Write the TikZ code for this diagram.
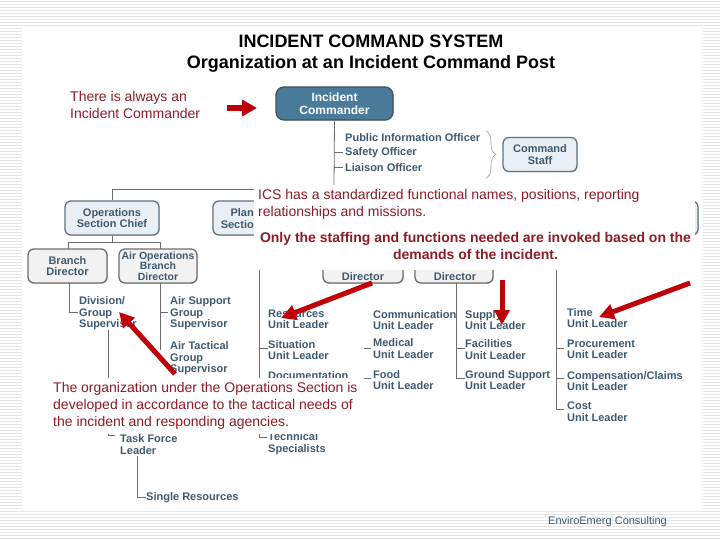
\documentclass[tikz,border=0pt]{standalone}
\usepackage{fontspec}
\setmainfont{Liberation Sans}
\usetikzlibrary{arrows.meta,decorations.pathreplacing,shadows}
\definecolor{col_note}{HTML}{8E1B25}
\definecolor{col_arrow}{HTML}{C00008}
\definecolor{col_chart}{HTML}{3F5A70}
\definecolor{col_line}{HTML}{6E6E6E}
\definecolor{col_boxedge}{HTML}{5F7482}
\definecolor{col_boxfill}{HTML}{E9EFF4}
\definecolor{col_ic}{HTML}{4A7B9B}
\definecolor{col_stripe}{HTML}{E6E6E6}
\tikzset{
    chart_box/.style={draw=col_boxedge,line width=1.3pt,fill=col_boxfill,rounded corners=6pt,inner sep=0pt,align=center,text=col_chart,font=\bfseries\fontsize{11}{11.5}\selectfont,drop shadow={shadow xshift=0.8pt,shadow yshift=-0.8pt,opacity=0.3}},
    branch_box/.style={chart_box,draw=col_line,fill=gray!10},
    chart_text/.style={inner sep=0pt,anchor=west,align=left,yshift=-0.5pt,text=col_chart,font=\bfseries\fontsize{11}{11.5}\selectfont},
    note_text/.style={inner sep=0pt,text=col_note,font=\fontsize{14}{17}\selectfont},
    title_text/.style={inner sep=0pt,align=center,font=\bfseries\fontsize{18}{21}\selectfont},
    cover/.style={fill=white,inner sep=0pt,anchor=north west},
    chart_line/.style={draw=col_line,line width=0.8pt},
    red_arrow/.style={-{Triangle[length=15pt,width=15pt]},draw=col_arrow,line width=5pt},
}
\begin{document}
\begin{tikzpicture}[x=1pt,y=-1pt]
  \useasboundingbox (0,0) rectangle (720,540);
  % striped page margins
  \foreach \ypos in {1,4,...,538}{
    \draw[col_stripe,line width=0.9pt] (0,\ypos) -- (720,\ypos);
  }
  \fill[white] (22,28) rectangle (703,510);
  % chart boxes
  \node[chart_box,fill=col_ic,draw=col_boxedge!70!black,text=white,rounded corners=8pt,minimum width=117pt,minimum height=33pt,font=\bfseries\fontsize{12}{13}\selectfont] (ic) at (334.5,103.5) {Incident\\Commander};
  \node[chart_box,minimum width=74pt,minimum height=34pt] (staff) at (540,154.5) {Command\\Staff};
  \node[chart_box,minimum width=94pt,minimum height=34pt] (ops) at (112,218) {Operations\\Section Chief};
  \node[chart_box,minimum width=94pt,minimum height=34pt] (plan) at (260,218) {};
  \node[chart_box,minimum width=94pt,minimum height=34pt] (finance) at (651,218) {};
  \node[branch_box,minimum width=79pt,minimum height=34pt] (branch) at (67.5,266) {Branch\\Director};
  \node[branch_box,minimum width=78pt,minimum height=34pt,font=\bfseries\fontsize{10.5}{10.5}\selectfont] (airops) at (158,266) {Air Operations\\Branch\\Director};
  \node[branch_box,minimum width=80pt,minimum height=34pt] (dir_a) at (363,266) {};
  \node[branch_box,minimum width=78pt,minimum height=34pt] (dir_b) at (454,266) {};
  % officers and unit leaders
  \node[chart_text] (pio) at (345,137) {Public Information Officer};
  \node[chart_text] (safety) at (345,152) {Safety Officer};
  \node[chart_text] (liaison) at (345,167) {Liaison Officer};
  \node[chart_text] (division) at (79,313) {Division/\\Group\\Supervisor};
  \node[chart_text] (airsupport) at (170,313) {Air Support\\Group\\Supervisor};
  \node[chart_text] (airtactical) at (170,358) {Air Tactical\\Group\\Supervisor};
  \node[chart_text] (resources) at (268,319) {Resources\\Unit Leader};
  \node[chart_text] (situation) at (268,349.5) {Situation\\Unit Leader};
  \node[chart_text] (documentation) at (268,375) {Documentation};
  \node[chart_text] (technical) at (268,443) {Technical\\Specialists};
  \node[chart_text] (taskforce) at (120,444) {Task Force\\Leader};
  \node[chart_text] (single) at (146,497) {Single Resources};
  \node[chart_text] (comms) at (373,319.5) {Communication\\Unit Leader};
  \node[chart_text] (medical) at (373,348) {Medical\\Unit Leader};
  \node[chart_text] (food) at (373,379.5) {Food\\Unit Leader};
  \node[chart_text] (supply) at (465,319.5) {Supply\\Unit Leader};
  \node[chart_text] (facilities) at (465,349) {Facilities\\Unit Leader};
  \node[chart_text] (ground) at (465,379.5) {Ground Support\\Unit Leader};
  \node[chart_text] (time) at (567,317.5) {Time\\Unit Leader};
  \node[chart_text] (procurement) at (567,349) {Procurement\\Unit Leader};
  \node[chart_text] (compensation) at (567,380.5) {Compensation/Claims\\Unit Leader};
  \node[chart_text] (cost) at (567,411) {Cost\\Unit Leader};
  % connectors
  \coordinate (ic_low) at (334,185);
  \coordinate (bus_left) at (112,189.5);
  \coordinate (bus_right) at (260,189.5);
  \coordinate (safety_in) at (343,152);
  \coordinate (liaison_in) at (343,167);
  \draw[chart_line] (ic.south) -- (ic_low);
  \draw[chart_line] (334,152) -- (safety_in);
  \draw[chart_line] (334,167) -- (liaison_in);
  \draw[chart_line] (ops.north) -- (bus_left) -- (bus_right) -- (plan.north);
  \coordinate (ops_low) at (112,242);
  \draw[chart_line] (ops.south) -- (ops_low);
  \draw[chart_line] (68,249) -- (68,242) -- (160,242) -- (160,249);
  \coordinate (division_in) at (78,312);
  \draw[chart_line] (69,283) |- (division_in);
  \coordinate (airops_low) at (160,350);
  \coordinate (airsupport_in) at (168,312);
  \draw[chart_line] (160,283) -- (airops_low);
  \draw[chart_line] (160,312) -- (airsupport_in);
  \coordinate (division_low) at (108,330);
  \coordinate (taskforce_in) at (115,435);
  \draw[chart_line] (division_low) |- (taskforce_in);
  \coordinate (taskforce_low) at (137.5,456);
  \draw[chart_line] (taskforce_low) |- (single.west);
  \coordinate (plan_top) at (259,270);
  \coordinate (technical_in) at (267,437);
  \draw[chart_line] (plan_top) |- (technical_in);
  \draw[chart_line] (259,348) -- (268,348);
  \draw[chart_line] (364,348) -- (371,348);
  \draw[chart_line] (364,378) -- (371,378);
  \coordinate (ground_in) at (465,378);
  \draw[chart_line] (456.5,283) |- (ground_in);
  \draw[chart_line] (456.5,348) -- (465,348);
  \coordinate (finance_top) at (556.5,270);
  \coordinate (cost_in) at (564,409);
  \draw[chart_line] (finance_top) |- (cost_in);
  \draw[chart_line] (556.5,348) -- (564,348);
  \draw[chart_line] (556.5,378) -- (564,378);
  \draw[decorate,decoration={brace,amplitude=10pt},draw=col_line!70,line width=0.6pt] (486,131) -- (486,178);
  % white panels of the notes
  \node[cover,minimum width=441pt,minimum height=85pt] (ics_cover) at (254,185) {};
  \node[cover,minimum width=308pt,minimum height=56pt] (org_cover) at (50,378) {};
  % notes
  \node[title_text] (title) at (371,53.5) {INCIDENT COMMAND SYSTEM\\Organization at an Incident Command Post};
  \node[note_text,anchor=west,align=left] (note_ic) at (70,105) {There is always an\\Incident Commander};
  \node[note_text,anchor=north west,align=left] (note_ics) at (258,189) {ICS has a standardized functional names, positions, reporting\\relationships and missions.};
  \node[note_text,font=\bfseries\fontsize{14}{17}\selectfont,align=center] (note_staff) at (475.5,246) {Only the staffing and functions needed are invoked based on the\\demands of the incident.};
  \node[note_text,anchor=north west,align=left] (note_org) at (53,382) {The organization under the Operations Section is\\developed in accordance to the tactical needs of\\the incident and responding agencies.};
  \node[inner sep=0pt,text=col_chart,font=\fontsize{11}{12}\selectfont] (credit) at (607.5,522) {EnviroEmerg Consulting};
  \node[chart_text,anchor=east] (plan_a) at (254,212) {Plan};
  \node[chart_text,anchor=east] (plan_b) at (254,224) {Sectio};
  \node[chart_text,anchor=center] (dir_a_text) at (363,276) {Director};
  \node[chart_text,anchor=center] (dir_b_text) at (455,276) {Director};
  % red arrows
  \coordinate (tail_ic) at (227,108);
  \coordinate (tip_ic) at (257,108);
  \coordinate (tail_ops) at (175,374);
  \coordinate (tail_res) at (372,283);
  \coordinate (tail_sup) at (502,280);
  \coordinate (tail_time) at (690,283);
  \coordinate (tip_ops) at (119,312);
  \coordinate (tip_res) at (281,318);
  \coordinate (tip_sup) at (502,325);
  \coordinate (tip_time) at (599,317);
  \draw[red_arrow,line width=6pt,-{Triangle[length=15pt,width=16pt]}] (tail_ic) -- (tip_ic);
  \draw[red_arrow] (tail_ops) -- (tip_ops);
  \draw[red_arrow] (tail_res) -- (tip_res);
  \draw[red_arrow] (tail_sup) -- (tip_sup);
  \draw[red_arrow] (tail_time) -- (tip_time);
\end{tikzpicture}
\end{document}
